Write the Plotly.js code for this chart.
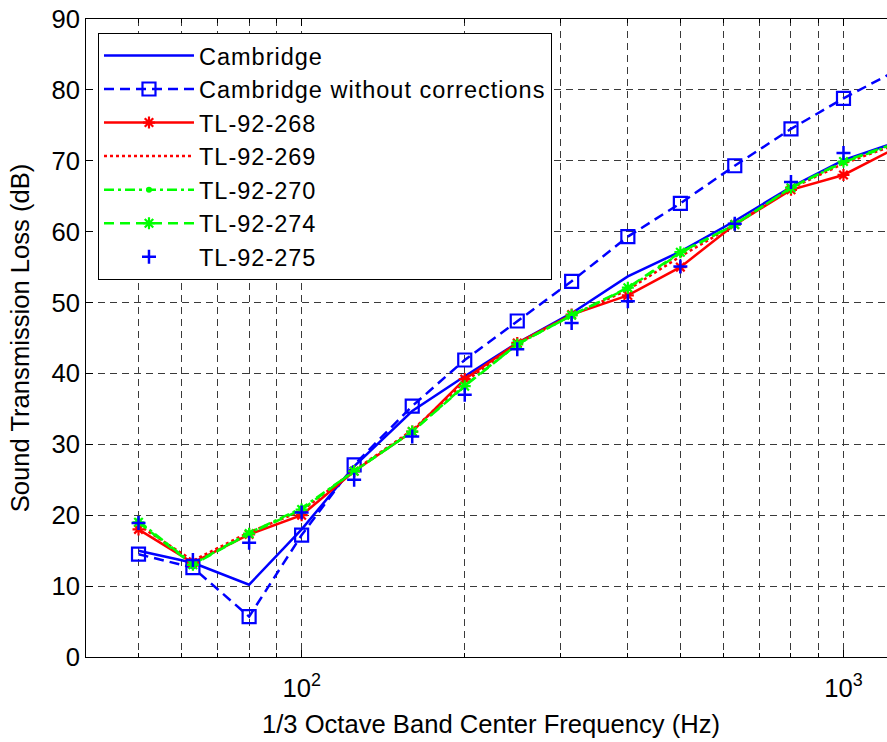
<!DOCTYPE html>
<html>
<head>
<meta charset="utf-8">
<script src="https://cdn.plot.ly/plotly-3.0.1.min.js"></script>
<style>
html, body { margin: 0; padding: 0; overflow: hidden; background: #fff; }
#chart { width: 900px; height: 742px; }
.legendtext { letter-spacing: 1px; }
</style>
</head>
<body>
<div id="chart"></div>
<script>
// 1/3 octave band center frequencies (Hz)
const freq = [50, 63, 80, 100, 125, 160, 200, 250, 315, 400, 500, 630, 800, 1000, 1250];

// Sound transmission loss (dB)
const cambridge      = [15.0, 13.3, 10.2, 18.0, 26.9, 34.7, 39.6, 44.3, 48.5, 53.7, 57.2, 61.5, 66.3, 70.1, 72.6];
const cambridgeNoCor = [14.5, 12.6, 5.7, 17.2, 27.1, 35.4, 41.9, 47.4, 53.0, 59.3, 64.0, 69.3, 74.5, 78.8, 82.7];
const tl268          = [18.0, 13.3, 17.3, 20.0, 26.2, 31.8, 39.2, 44.3, 48.3, 51.0, 55.0, 61.0, 65.9, 68.0, 71.8];
const tl269          = [18.6, 13.6, 17.6, 20.6, 26.3, 32.0, 38.8, 44.2, 48.2, 51.8, 56.5, 61.0, 66.1, 69.6, 72.3];
const tl270          = [19.2, 13.1, 17.5, 21.0, 26.2, 31.8, 38.3, 44.1, 48.2, 52.0, 57.0, 61.0, 66.2, 69.8, 72.4];
const tl274          = [19.0, 13.0, 17.4, 20.8, 26.2, 31.8, 38.2, 44.1, 48.2, 52.1, 57.1, 61.0, 66.2, 69.9, 72.5];
const tl275          = [18.9, 13.7, 16.1, 20.4, 25.0, 31.1, 37.0, 43.4, 47.1, 50.2, 55.1, 61.1, 67.0, 71.1, 72.8];

const seriesNames = ['Cambridge', 'Cambridge without corrections', 'TL-92-268', 'TL-92-269', 'TL-92-270', 'TL-92-274', 'TL-92-275'];

// Axis ticks
const xMajorTicks = [100, 1000];
const xMajorText = ['10<sup>2</sup>', '10<sup>3</sup>'];
const xMinorTicks = [50, 60, 70, 80, 90, 200, 300, 400, 500, 600, 700, 800, 900];
const yTicks = [0, 10, 20, 30, 40, 50, 60, 70, 80, 90];

const BLUE = '#0000FF', RED = '#FF0000', GREEN = '#00FF00';
const FONT = 'Liberation Sans, Arial, Helvetica, sans-serif';
const FS = 25.6;

const traces = [
  { x: freq, y: cambridge, name: seriesNames[0], mode: 'lines',
    line: { color: BLUE, width: 2.5 } },
  { x: freq, y: cambridgeNoCor, name: seriesNames[1], mode: 'lines+markers',
    line: { color: BLUE, width: 2.5, dash: '10px,6px' },
    marker: { symbol: 'square-open', size: 13, color: BLUE, line: { color: BLUE, width: 2.2 } } },
  { x: freq, y: tl268, name: seriesNames[2], mode: 'lines+markers',
    line: { color: RED, width: 2.5 },
    marker: { symbol: 'asterisk-open', size: 10, color: RED, line: { color: RED, width: 2.2 } } },
  { x: freq, y: tl269, name: seriesNames[3], mode: 'lines',
    line: { color: RED, width: 2.5, dash: '3px,3px' } },
  { x: freq, y: tl270, name: seriesNames[4], mode: 'lines+markers',
    line: { color: GREEN, width: 2.5, dash: '10px,4px,3px,4px' },
    marker: { symbol: 'circle', size: 6, color: GREEN } },
  { x: freq, y: tl274, name: seriesNames[5], mode: 'lines+markers',
    line: { color: GREEN, width: 2.5, dash: '10px,6px' },
    marker: { symbol: 'asterisk-open', size: 10, color: GREEN, line: { color: GREEN, width: 2.2 } } },
  { x: freq, y: tl275, name: seriesNames[6], mode: 'markers',
    marker: { symbol: 'cross-thin-open', size: 10, color: BLUE, line: { color: BLUE, width: 2.5 } } }
];

const gridDash = '7px,5px';
const layout = {
  width: 900, height: 742,
  margin: { l: 86, r: 4, t: 19, b: 85 },
  paper_bgcolor: '#fff', plot_bgcolor: '#fff',
  font: { family: FONT, size: FS, color: '#000' },
  showlegend: true,
  legend: {
    x: 0.0148, y: 0.9786, xanchor: 'left', yanchor: 'top',
    bgcolor: '#fff', bordercolor: '#000', borderwidth: 1,
    font: { family: FONT, size: 23.5, color: '#000' },
    itemwidth: 90, tracegroupgap: 0
  },
  xaxis: {
    type: 'log',
    range: [Math.log10(40), Math.log10(1250)],
    tickmode: 'array', tickvals: xMajorTicks, ticktext: xMajorText,
    ticks: 'inside', ticklen: 7, tickwidth: 1, tickcolor: '#000',
    ticklabelstandoff: 8,
    showline: true, linecolor: '#000', linewidth: 1, mirror: 'allticks',
    showgrid: true, gridcolor: '#3a3a3a', griddash: gridDash, gridwidth: 1,
    minor: { tickvals: xMinorTicks, ticks: 'inside', ticklen: 4, tickcolor: '#000',
             showgrid: true, gridcolor: '#3a3a3a', griddash: gridDash, gridwidth: 1 },
    zeroline: false,
    tickfont: { family: FONT, size: FS, color: '#000' },
    title: { text: '1/3 Octave Band Center Frequency (Hz)', font: { family: FONT, size: FS, color: '#000' }, standoff: 14 }
  },
  yaxis: {
    range: [0, 90],
    tickmode: 'array', tickvals: yTicks,
    ticks: 'inside', ticklen: 7, tickwidth: 1, tickcolor: '#000',
    showline: true, linecolor: '#000', linewidth: 1, mirror: 'allticks',
    showgrid: true, gridcolor: '#3a3a3a', griddash: gridDash, gridwidth: 1,
    zeroline: false,
    tickfont: { family: FONT, size: FS, color: '#000' },
    title: { text: 'Sound Transmission Loss (dB)', font: { family: FONT, size: FS, color: '#000' }, standoff: 14 }
  }
};

Plotly.newPlot('chart', traces, layout, { staticPlot: true, displayModeBar: false });
</script>
</body>
</html>
